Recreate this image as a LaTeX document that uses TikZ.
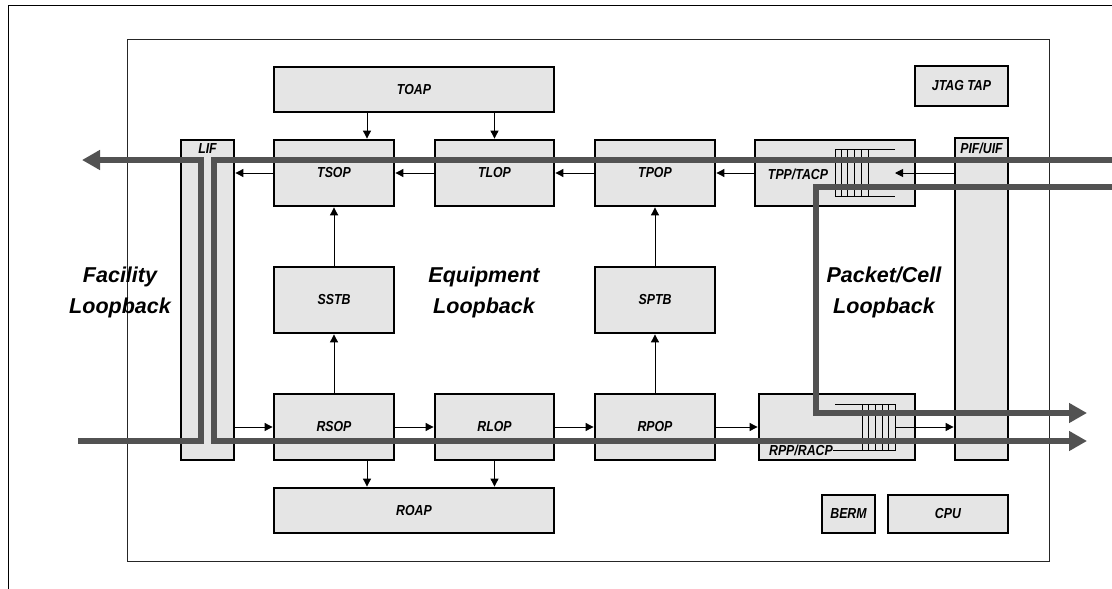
\documentclass[tikz,border=0pt]{standalone}
\usepackage{fontspec}
\setmainfont{Liberation Sans}
\newfontfamily\narrowfont{Liberation Sans}[FakeStretch=0.85]
\usetikzlibrary{arrows.meta}

\begin{document}
\begin{tikzpicture}[
        x=1pt, y=-1pt,
        block/.style={draw, fill=gray!20, line width=2.8pt, inner sep=0pt, font=\narrowfont\bfseries\itshape\fontsize{14.5}{16}\selectfont},
        txt/.style={inner sep=0pt, font=\narrowfont\bfseries\itshape\fontsize{14.5}{16}\selectfont},
        big/.style={inner sep=0pt, align=center, font=\bfseries\itshape\fontsize{21.5}{31}\selectfont},
        arrow/.style={-{Triangle[length=8pt,width=8pt]}, line width=0.9pt},
        fifo/.style={line width=0.9pt},
        path/.style={line width=5.5pt, draw=black!68, line join=miter},
        patharrow/.style={path, -{Triangle[length=18pt,width=19pt]}}
    ]
        \useasboundingbox (0,0) rectangle (1112,589);
        \draw[line width=1pt] (8,589) -- (8,5) -- (1112,5);
        \draw[line width=1pt, draw=black!85] (127,39) rectangle (1049,561);

        \node[block, minimum width=280pt, minimum height=45pt] (toap) at (414,89.5) {TOAP};
        \node[block, minimum width=93pt, minimum height=40pt] (jtag) at (961.5,86) {JTAG TAP};
        \node[block, minimum width=53pt, minimum height=320pt] (lif) at (207.5,300) {};
        \node[block, minimum width=53pt, minimum height=322pt] (pif) at (981.5,299) {};
        \node[txt] (liflbl) at (207.5,149) {LIF};
        \node[txt] (piflbl) at (981.5,148) {PIF/UIF};

        \node[block, minimum width=120pt, minimum height=66pt] (tsop) at (334,173) {TSOP};
        \node[block, minimum width=119pt, minimum height=66pt] (tlop) at (494.5,173) {TLOP};
        \node[block, minimum width=120pt, minimum height=66pt] (tpop) at (655,173) {TPOP};
        \node[block, minimum width=160pt, minimum height=66pt] (tpp) at (835,173) {};
        \node[txt] (tpplbl) at (798,174) {TPP/TACP};

        \node[block, minimum width=120pt, minimum height=66pt] (sstb) at (334,300) {SSTB};
        \node[block, minimum width=120pt, minimum height=66pt] (sptb) at (655,300) {SPTB};

        \node[block, minimum width=120pt, minimum height=66pt] (rsop) at (334,427) {RSOP};
        \node[block, minimum width=119pt, minimum height=66pt] (rlop) at (494.5,427) {RLOP};
        \node[block, minimum width=120pt, minimum height=66pt] (rpop) at (655,427) {RPOP};
        \node[block, minimum width=156pt, minimum height=66pt] (rpp) at (837,427) {};
        \node[txt, anchor=east] (rpplbl) at (833,450) {RPP/RACP};

        \node[block, minimum width=280pt, minimum height=45pt] (roap) at (414,510.5) {ROAP};
        \node[block, minimum width=53pt, minimum height=38pt] (berm) at (848.5,514) {BERM};
        \node[block, minimum width=120pt, minimum height=38pt] (cpu) at (948,514) {CPU};

        \node[big] (facility) at (120,292) {Facility\\Loopback};
        \node[big] (equipment) at (484,292) {Equipment\\Loopback};
        \node[big] (packet) at (884,292) {Packet/Cell\\Loopback};

        % transmit side
        \draw[arrow] ([xshift=33pt]tsop.north |- toap.south) -- ([xshift=33pt]tsop.north);
        \draw[arrow] (toap.south -| tlop.north) -- (tlop.north);
        \draw[arrow] (tlop.west) -- (tsop.east);
        \draw[arrow] (tpop.west) -- (tlop.east);
        \draw[arrow] (tpp.west) -- (tpop.east);
        \draw[arrow] (tsop.west) -- (lif.east |- tsop.west);
        \coordinate (tfifo) at (895,173);
        \draw[arrow] (pif.west |- tpp.west) -- (tfifo);
        \draw[fifo] (895,149) -- (835,149) -- (835,196) -- (895,196);
        \foreach \x in {841,847,854,861,868}
            \draw[fifo] (\x,149) -- (\x,196);

        % receive side
        \draw[arrow] (lif.east |- rsop.west) -- (rsop.west);
        \draw[arrow] (rsop.east) -- (rlop.west);
        \draw[arrow] (rlop.east) -- (rpop.west);
        \draw[arrow] (rpop.east) -- (rpp.west);
        \coordinate (rfifo) at (895,427);
        \draw[arrow] (rfifo) -- (pif.west |- rpp.east);
        \draw[fifo] (rpplbl.east) -- (895,450) -- (895,404) -- (835,404);
        \foreach \x in {862,868,875,882,888}
            \draw[fifo] (\x,404) -- (\x,450);
        \draw[arrow] ([xshift=33pt]rsop.south) -- ([xshift=33pt]rsop.south |- roap.north);
        \draw[arrow] (rlop.south) -- (rlop.south |- roap.north);
        \draw[arrow] (rsop) -- (sstb);
        \draw[arrow] (sstb) -- (tsop);
        \draw[arrow] (rpop) -- (sptb);
        \draw[arrow] (sptb) -- (tpop);

        % loopback paths
        \coordinate (facin) at (78,441);
        \coordinate (facout) at (82,160);
        \coordinate (eqin) at (1112,160);
        \coordinate (eqout) at (1087,441);
        \coordinate (pktin) at (1112,187);
        \coordinate (pktout) at (1087,413);
        \draw[patharrow] (facin) -- (201,441) -- (201,160) -- (facout);
        \draw[patharrow] (eqin) -- (214,160) -- (214,441) -- (eqout);
        \draw[patharrow] (pktin) -- (816,187) -- (816,413) -- (pktout);
    \end{tikzpicture}
\end{document}
